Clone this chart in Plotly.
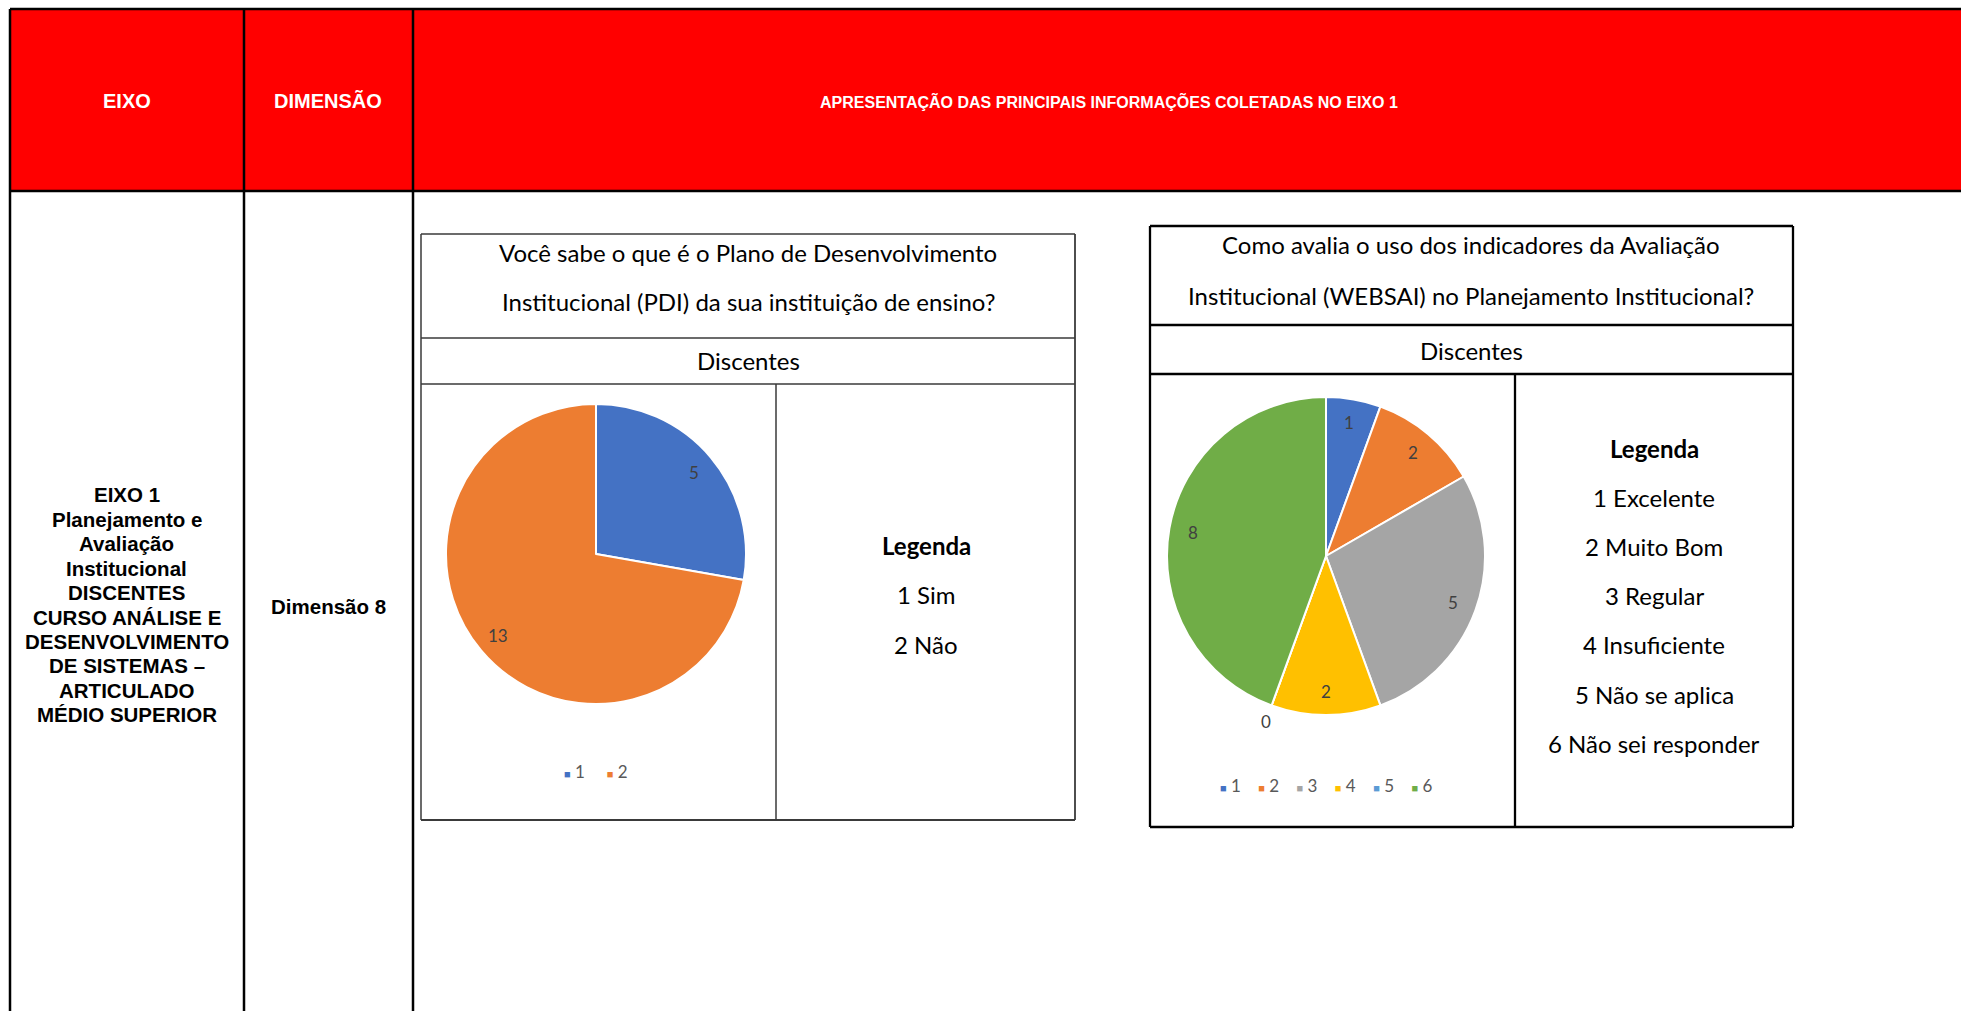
import math
import plotly.graph_objects as go

W, H = 1961, 1011

# ---------------- data ----------------
header_labels = ["EIXO", "DIMENSÃO",
                 "APRESENTAÇÃO DAS PRINCIPAIS INFORMAÇÕES COLETADAS NO EIXO 1"]
eixo_lines = ["EIXO 1", "Planejamento e", "Avaliação", "Institucional", "DISCENTES",
              "CURSO ANÁLISE E", "DESENVOLVIMENTO", "DE SISTEMAS –", "ARTICULADO",
              "MÉDIO SUPERIOR"]
dimensao_label = "Dimensão 8"

q1_title = ["Você sabe o que é o Plano de Desenvolvimento",
            "Institucional (PDI) da sua instituição de ensino?"]
q1_categories = ["1", "2"]
q1_values = [5, 13]
q1_colors = ["#4472C4", "#ED7D31"]
q1_legend = ["1 Sim", "2 Não"]

q2_title = ["Como avalia o uso dos indicadores da Avaliação",
            "Institucional (WEBSAI) no Planejamento Institucional?"]
q2_categories = ["1", "2", "3", "4", "5", "6"]
q2_values = [1, 2, 5, 2, 0, 8]
q2_colors = ["#4472C4", "#ED7D31", "#A5A5A5", "#FFC000", "#5B9BD5", "#70AD47"]
q2_legend = ["1 Excelente", "2 Muito Bom", "3 Regular", "4 Insuficiente",
             "5 Não se aplica", "6 Não sei responder"]

group_label = "Discentes"
legend_title = "Legenda"

# ---------------- helpers ----------------
def X(px):
    return px / W

def Y(py):
    return 1 - py / H

ARIAL = "Liberation Sans, Arial, sans-serif"
CALIBRI = "Lato, Carlito, Calibri, sans-serif"

shapes = []
annotations = []

def line(x0, y0, x1, y1, color="black", width=2.5):
    shapes.append(dict(type="line", xref="paper", yref="paper",
                       x0=X(x0), y0=Y(y0), x1=X(x1), y1=Y(y1),
                       line=dict(color=color, width=width), layer="above"))

def text(x, y, s, size, family=CALIBRI, color="black", bold=False):
    annotations.append(dict(xref="paper", yref="paper", x=X(x), y=Y(y),
                            text=("<b>%s</b>" % s) if bold else s,
                            showarrow=False, xanchor="center", yanchor="middle",
                            font=dict(family=family, size=size, color=color)))

# ---------------- table ----------------
shapes.append(dict(type="rect", xref="paper", yref="paper",
                   x0=X(10), y0=Y(191), x1=X(1975), y1=Y(9),
                   fillcolor="#FF0000", line=dict(width=0), layer="below"))
line(10, 9, 1975, 9)
line(10, 191, 1975, 191)
for cx in (10, 244, 413):
    line(cx, 9, cx, 1030)

header_x = [127, 328, 1109]
header_size = [20, 20, 16]
for hx, hs, lab in zip(header_x, header_size, header_labels):
    text(hx, 101, lab, hs, ARIAL, "white", True)

for i, s in enumerate(eixo_lines):
    text(127, 495 + 24.4 * i, s, 20.5, ARIAL, "black", True)
text(328, 606, dimensao_label, 20.5, ARIAL, "black", True)

# ---------------- box 1 ----------------
b1 = dict(l=421, r=1075, t=234, s1=338, s2=384, b=820, d=776)
c1 = "#3a3a3a"
line(b1["l"], b1["t"], b1["r"], b1["t"], c1, 1.5)
line(b1["l"], b1["s1"], b1["r"], b1["s1"], c1, 1.5)
line(b1["l"], b1["s2"], b1["r"], b1["s2"], c1, 1.5)
line(b1["l"], b1["b"], b1["r"], b1["b"], c1, 1.8)
line(b1["l"], b1["t"], b1["l"], b1["b"], c1, 1.5)
line(b1["r"], b1["t"], b1["r"], b1["b"], c1, 1.8)
line(b1["d"], b1["s2"], b1["d"], b1["b"], c1, 1.5)
text(748, 253, q1_title[0], 24)
text(748, 301, q1_title[1], 24)
text(748, 360, group_label, 24)
text(926, 545, legend_title, 24, bold=True)
for i, s in enumerate(q1_legend):
    text(926, 594.5 + 49.5 * i, s, 24)

# ---------------- box 2 ----------------
b2 = dict(l=1150, r=1793, t=226, s1=325, s2=374, b=827, d=1515)
c2 = "black"
line(b2["l"], b2["t"], b2["r"], b2["t"], c2, 2.3)
line(b2["l"], b2["s1"], b2["r"], b2["s1"], c2, 2.3)
line(b2["l"], b2["s2"], b2["r"], b2["s2"], c2, 2.3)
line(b2["l"], b2["b"], b2["r"], b2["b"], c2, 2.3)
line(b2["l"], b2["t"], b2["l"], b2["b"], c2, 2.3)
line(b2["r"], b2["t"], b2["r"], b2["b"], c2, 2.3)
line(b2["d"], b2["s2"], b2["d"], b2["b"], c2, 2.3)
text(1471, 245, q2_title[0], 24)
text(1471, 295, q2_title[1], 24)
text(1471, 350, group_label, 24)
text(1654, 448, legend_title, 24, bold=True)
for i, s in enumerate(q2_legend):
    text(1654, 497.3 + 49.2 * i, s, 24)

# ---------------- pies ----------------
fig = go.Figure()

def add_pie(cx, cy, r, cats, vals, cols, leg_y, gap):
    fig.add_trace(go.Pie(
        labels=cats, values=vals, sort=False, direction="clockwise", rotation=0,
        marker=dict(colors=cols, line=dict(color="white", width=2)),
        textinfo="none", hoverinfo="label+value",
        domain=dict(x=[X(cx - r), X(cx + r)], y=[Y(cy + r), Y(cy - r)]),
        showlegend=False))
    total = float(sum(vals))
    cum = 0.0
    for v in vals:
        ang = 2 * math.pi * (cum + v / 2.0) / total
        rr = r * (0.85 if v > 0 else 1.11)
        text(cx + rr * math.sin(ang), cy - rr * math.cos(ang), str(v), 17,
             CALIBRI, "#404040")
        cum += v
    # compact legend in the style of the original chart
    items = ['<span style="color:%s;font-size:11px">■</span>\u00a0%s' % (c, k)
             for k, c in zip(cats, cols)]
    text(cx, leg_y, ("\u00a0" * gap).join(items), 17, CALIBRI, "#595959")

add_pie(596, 554, 150, q1_categories, q1_values, q1_colors, 771, 5)
add_pie(1326, 556, 159, q2_categories, q2_values, q2_colors, 785, 4)

fig.update_layout(
    width=W, height=H, autosize=False,
    margin=dict(l=0, r=0, t=0, b=0),
    paper_bgcolor="white", plot_bgcolor="white",
    shapes=shapes, annotations=annotations,
    showlegend=False,
)

fig.write_html("out.html", config={"displayModeBar": False},
               post_script="document.body.style.margin='0';document.body.style.overflow='hidden';")
